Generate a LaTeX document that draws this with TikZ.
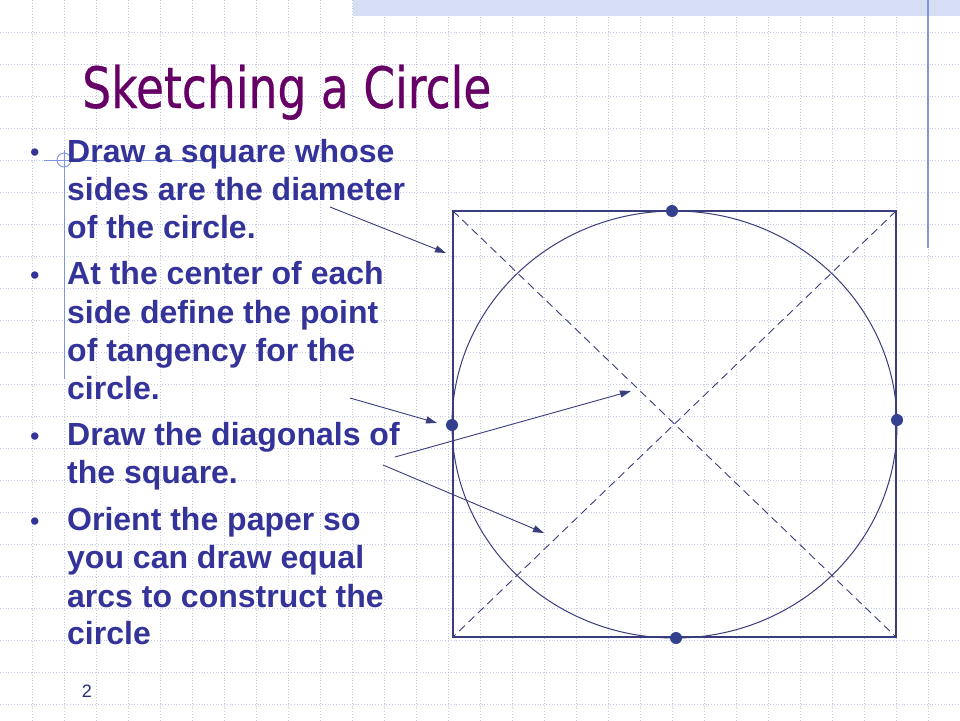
\documentclass[tikz,border=0pt]{standalone}
\usepackage{fontspec}
\setmainfont{Liberation Sans}
\newfontfamily\titlefont[FakeBold=0.5]{DejaVu Sans}
\usetikzlibrary{arrows.meta}
\definecolor{txt}{HTML}{333399}
\definecolor{titlec}{HTML}{660066}
\definecolor{gridc}{HTML}{C4CAE8}
\definecolor{bandc}{HTML}{D6DEF6}
\definecolor{deco}{HTML}{7F95E0}
\definecolor{fig}{HTML}{3A3D7C}
\definecolor{dotc}{HTML}{333F8F}
\tikzset{
  gridline/.style={gridc, dotted, line width=0.8pt},
  bodyline/.style={anchor=base west, inner sep=0pt, text=txt, font=\bfseries\fontsize{32}{38}\selectfont},
  bulletmark/.style={anchor=base west, inner sep=0pt, text=txt, font=\fontsize{27}{27}\selectfont},
  tangent/.style={circle, fill=dotc, minimum size=12pt, inner sep=0pt},
  pointer/.style={fig, line width=0.9pt, -{Triangle[length=11pt,width=7pt]}},
  edge/.style={fig, line width=1.3pt},
  diag/.style={fig, line width=0.9pt, dash pattern=on 8pt off 5pt},
}
\begin{document}
\begin{tikzpicture}[x=1pt,y=-1pt]
\useasboundingbox (0,0) rectangle (960,720);
\fill[white] (0,0) rectangle (960,720);
% grid
\foreach \x in {32,64,...,928} \draw[gridline] (\x,0) -- (\x,720);
\foreach \y in {32,64,...,704} \draw[gridline] (0,\y) -- (960,\y);
% template decoration
\fill[bandc] (353,0) rectangle (960,16);
\draw[deco, line width=1.3pt] (928,0) -- (928,248);
\draw[deco, line width=0.9pt] (44,160) -- (214,160);
\draw[deco, line width=0.9pt] (64,150) -- (64,379);
\draw[deco, line width=0.9pt] (64,160) circle (7pt);
% title
\node[anchor=base west, inner sep=0pt, text=titlec, font=\titlefont\fontsize{57}{60}\selectfont] (title) at (82,108) {\scalebox{0.80}[1]{Sketching a Circle}};
% bullets
\node[bulletmark] (b1) at (30,161) {•};
\node[bulletmark] (b2) at (30,284) {•};
\node[bulletmark] (b3) at (30,445) {•};
\node[bulletmark] (b4) at (30,530) {•};
\node[bodyline] (l1) at (67,162) {Draw a square whose};
\node[bodyline] (l2) at (67,200) {sides are the diameter};
\node[bodyline] (l3) at (67,238) {of the circle.};
\node[bodyline] (l4) at (67,284) {At the center of each};
\node[bodyline] (l5) at (67,323) {side define the point};
\node[bodyline] (l6) at (67,361) {of tangency for the};
\node[bodyline] (l7) at (67,399) {circle.};
\node[bodyline] (l8) at (67,445) {Draw the diagonals of};
\node[bodyline] (l9) at (67,483) {the square.};
\node[bodyline] (l10) at (67,530) {Orient the paper so};
\node[bodyline] (l11) at (67,568) {you can draw equal};
\node[bodyline] (l12) at (67,607) {arcs to construct the};
\node[bodyline] (l13) at (67,644) {circle};
\node[anchor=base, inner sep=0pt, text=txt!80!black, font=\fontsize{18}{18}\selectfont] (pg) at (87,697) {2};
% figure
\coordinate (tl) at (453,211);
\coordinate (tr) at (896,211);
\coordinate (br) at (896,637);
\coordinate (bl) at (453,637);
\draw[edge] (tl) -- (tr) -- (br) -- (bl) -- cycle;
\draw[diag] (tl) -- (br);
\draw[diag] (tr) -- (bl);
\draw[fig, line width=1pt] (674.5,424.5) ellipse [x radius=222.5pt, y radius=213.5pt];
\node[tangent] (ptop) at (672,211) {};
\node[tangent] (pbot) at (676,638) {};
\node[tangent] (pleft) at (452,425) {};
\node[tangent] (pright) at (897,420) {};
% pointers
\coordinate (s1) at (330,207);
\coordinate (e1) at (446,253);
\coordinate (s2) at (350,398);
\coordinate (e2) at (437,423);
\coordinate (s3) at (395,457);
\coordinate (e3) at (631,391);
\coordinate (s4) at (383,465);
\coordinate (e4) at (544,533);
\draw[pointer] (s1) -- (e1);
\draw[pointer] (s2) -- (e2);
\draw[pointer] (s3) -- (e3);
\draw[pointer] (s4) -- (e4);
\end{tikzpicture}
\end{document}
